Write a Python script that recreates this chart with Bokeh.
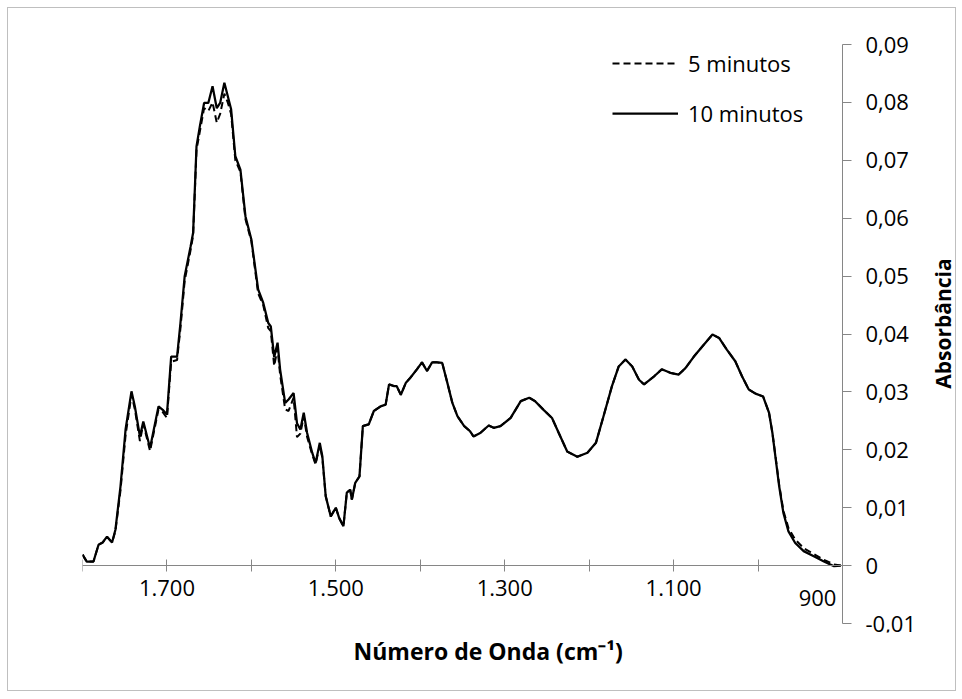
import math

from bokeh.embed import file_html
from bokeh.models import (FixedTicker, InlineStyleSheet, Label, Legend, LegendItem,
                          LinearAxis, Range1d, Title)
from bokeh.plotting import figure
from bokeh.resources import INLINE

# Infrared spectrum: absorbance against wavenumber (cm^-1) for two exposure times
WAVENUMBER = [
    1800, 1795, 1787, 1781, 1776, 1771, 1765, 1761, 1755, 1749,
    1742, 1738, 1732, 1728, 1720, 1710, 1705, 1700, 1695, 1688,
    1684, 1679, 1672, 1669, 1665, 1661, 1656, 1651, 1646, 1641,
    1637, 1632, 1628, 1624, 1619, 1613, 1607, 1600, 1592, 1586,
    1580, 1577, 1573, 1569, 1566, 1560, 1556, 1550, 1546, 1542,
    1538, 1534, 1528, 1524, 1519, 1516, 1512, 1506, 1500, 1496,
    1491, 1487, 1483, 1481, 1477, 1472, 1468, 1461, 1455, 1447,
    1441, 1437, 1431, 1428, 1423, 1417, 1412, 1404, 1398, 1392,
    1386, 1380, 1374, 1368, 1362, 1356, 1348, 1341, 1337, 1329,
    1319, 1313, 1305, 1293, 1281, 1271, 1264, 1254, 1244, 1236,
    1226, 1214, 1202, 1192, 1183, 1173, 1165, 1157, 1149, 1141,
    1135, 1123, 1114, 1104, 1094, 1086, 1076, 1064, 1054, 1046,
    1037, 1027, 1019, 1011, 1003, 994, 987, 983, 979, 975,
    970, 964, 956, 946, 934, 922, 910, 902,
]

ABS_5MIN = [
    0.0019, 0.0007, 0.0007, 0.0036, 0.0040, 0.0050, 0.0040, 0.0060, 0.0130, 0.0225,
    0.0295, 0.0270, 0.0215, 0.0245, 0.0198, 0.0270, 0.0265, 0.0255, 0.0352, 0.0355,
    0.0410, 0.0492, 0.0545, 0.0570, 0.0718, 0.0750, 0.0790, 0.0785, 0.0800, 0.0765,
    0.0780, 0.0815, 0.0800, 0.0780, 0.0700, 0.0680, 0.0598, 0.0560, 0.0470, 0.0450,
    0.0410, 0.0405, 0.0345, 0.0375, 0.0330, 0.0270, 0.0267, 0.0290, 0.0222, 0.0228,
    0.0258, 0.0222, 0.0192, 0.0175, 0.0208, 0.0186, 0.0120, 0.0085, 0.0100, 0.0082,
    0.0068, 0.0126, 0.0131, 0.0114, 0.0143, 0.0154, 0.0241, 0.0244, 0.0267, 0.0275,
    0.0278, 0.0313, 0.0310, 0.0310, 0.0295, 0.0316, 0.0324, 0.0339, 0.0351, 0.0336,
    0.0351, 0.0351, 0.0350, 0.0316, 0.0281, 0.0258, 0.0241, 0.0232, 0.0223, 0.0229,
    0.0242, 0.0238, 0.0241, 0.0255, 0.0284, 0.0290, 0.0284, 0.0269, 0.0255, 0.0229,
    0.0197, 0.0188, 0.0195, 0.0212, 0.0258, 0.0310, 0.0344, 0.0356, 0.0344, 0.0321,
    0.0313, 0.0327, 0.0339, 0.0333, 0.0330, 0.0341, 0.0361, 0.0382, 0.0399, 0.0393,
    0.0373, 0.0353, 0.0327, 0.0304, 0.0297, 0.0292, 0.0264, 0.0229, 0.0185, 0.0140,
    0.0095, 0.0065, 0.0045, 0.0030, 0.0020, 0.0010, 0.0002, 0.0000,
]

ABS_10MIN = [
    0.0019, 0.0007, 0.0007, 0.0036, 0.0040, 0.0050, 0.0040, 0.0062, 0.0137, 0.0235,
    0.0301, 0.0275, 0.0223, 0.0249, 0.0203, 0.0275, 0.0269, 0.0261, 0.0361, 0.0361,
    0.0419, 0.0500, 0.0551, 0.0575, 0.0724, 0.0759, 0.0799, 0.0799, 0.0828, 0.0790,
    0.0799, 0.0834, 0.0811, 0.0788, 0.0707, 0.0684, 0.0603, 0.0563, 0.0477, 0.0454,
    0.0419, 0.0413, 0.0360, 0.0385, 0.0339, 0.0281, 0.0287, 0.0298, 0.0246, 0.0235,
    0.0264, 0.0229, 0.0195, 0.0177, 0.0212, 0.0189, 0.0120, 0.0085, 0.0100, 0.0082,
    0.0068, 0.0126, 0.0131, 0.0114, 0.0143, 0.0154, 0.0241, 0.0244, 0.0267, 0.0275,
    0.0278, 0.0313, 0.0310, 0.0310, 0.0295, 0.0316, 0.0324, 0.0339, 0.0351, 0.0336,
    0.0351, 0.0351, 0.0350, 0.0316, 0.0281, 0.0258, 0.0241, 0.0232, 0.0223, 0.0229,
    0.0242, 0.0238, 0.0241, 0.0255, 0.0284, 0.0290, 0.0284, 0.0269, 0.0255, 0.0229,
    0.0197, 0.0188, 0.0195, 0.0212, 0.0258, 0.0310, 0.0344, 0.0356, 0.0344, 0.0321,
    0.0313, 0.0327, 0.0339, 0.0333, 0.0330, 0.0341, 0.0361, 0.0382, 0.0399, 0.0393,
    0.0373, 0.0353, 0.0327, 0.0304, 0.0297, 0.0292, 0.0264, 0.0229, 0.0183, 0.0137,
    0.0091, 0.0059, 0.0039, 0.0025, 0.0016, 0.0007, -0.0001, 0.0000,
]

SERIES_NAMES = ["5 minutos", "10 minutos"]

X_START, X_END = 1800, 900          # wavenumber span of the axis (reversed)
Y_START, Y_END = -0.01, 0.09

X_TICKS = [1700, 1500, 1300, 1100, 900]
X_TICK_LABELS = ["1.700", "1.500", "1.300", "1.100", "900"]
X_MINOR_TICKS = [1800, 1600, 1400, 1200, 1000]

Y_TICKS = [-0.01, 0.0, 0.01, 0.02, 0.03, 0.04, 0.05, 0.06, 0.07, 0.08, 0.09]
Y_TICK_LABELS = ["-0,01", "0", "0,01", "0,02", "0,03", "0,04", "0,05",
                 "0,06", "0,07", "0,08", "0,09"]

X_TITLE = "Número de Onda (cm⁻¹)"
Y_TITLE = "Absorbância"

FONT = "Open Sans"
TICK_SIZE = "22px"
AXIS_GRAY = "#868686"

# Layout in pixels. The plotted span is 760 x 579 px; the view runs on past
# 900 cm^-1 and a little above/below the absorbance limits, so the right-hand
# axis, its end labels and its title sit inside the drawing area.
SPAN_W_PX, SPAN_H_PX = 760, 579
RIGHT_MARGIN_PX = 113
TOP_PAD_PX, BOTTOM_PAD_PX = 14, 9
x_view_end = X_END - (X_START - X_END) * RIGHT_MARGIN_PX / SPAN_W_PX
y_view_start = Y_START - (Y_END - Y_START) * BOTTOM_PAD_PX / SPAN_H_PX
y_view_end = Y_END + (Y_END - Y_START) * TOP_PAD_PX / SPAN_H_PX

p = figure(
    width=947, height=682,
    output_backend="svg", toolbar_location=None,
    x_range=Range1d(X_START, x_view_end),
    y_range=Range1d(y_view_start, y_view_end),
    x_axis_location=None, y_axis_location=None,
    min_border_left=74, min_border_right=0,
    min_border_top=36 - TOP_PAD_PX, min_border_bottom=67 - BOTTOM_PAD_PX,
)
p.margin = (8, 7, 9, 8)
p.stylesheets = [InlineStyleSheet(css=":host { outline: 1px solid #bfbfbf; }")]
p.outline_line_color = None
p.xgrid.visible = False
p.ygrid.visible = False
p.background_fill_color = "white"
p.border_fill_color = "white"

# Title under the plot area, slightly right of the frame centre
p.add_layout(Title(
    text=X_TITLE, align="left", offset=271, standoff=0,
    text_font=FONT, text_font_style="bold", text_font_size="23px", text_color="black",
), "below")

# Horizontal axis crossing at zero absorbance; last label placed separately
x_overrides = dict(zip(X_TICKS, X_TICK_LABELS))
x_overrides[X_TICKS[-1]] = ""
xaxis = LinearAxis(
    fixed_location=0, bounds=(X_END, X_START),
    ticker=FixedTicker(ticks=X_TICKS, minor_ticks=X_MINOR_TICKS),
    major_label_overrides=x_overrides,
    axis_line_color=AXIS_GRAY,
    major_tick_line_color=AXIS_GRAY, minor_tick_line_color=AXIS_GRAY,
    major_tick_in=6, major_tick_out=6, minor_tick_in=6, minor_tick_out=6,
    major_label_standoff=8,
    major_label_text_font=FONT, major_label_text_font_size=TICK_SIZE,
    major_label_text_color="black",
)
p.add_layout(xaxis, "below")

# Vertical axis standing at the low-wavenumber end of the spectrum
yaxis = LinearAxis(
    fixed_location=X_END, bounds=(Y_START, Y_END),
    ticker=FixedTicker(ticks=Y_TICKS, minor_ticks=[]),
    major_label_overrides=dict(zip(Y_TICKS, Y_TICK_LABELS)),
    axis_line_color=AXIS_GRAY,
    major_tick_line_color=AXIS_GRAY,
    major_tick_in=0, major_tick_out=9, minor_tick_in=0, minor_tick_out=0,
    major_label_standoff=14,
    major_label_text_font=FONT, major_label_text_font_size=TICK_SIZE,
    major_label_text_color="black",
)
p.add_layout(yaxis, "right")

p.add_layout(Label(
    x=X_TICKS[-1], y=0, text=X_TICK_LABELS[-1],
    x_offset=-25, y_offset=-32,
    text_align="center", text_baseline="middle",
    text_font=FONT, text_font_size=TICK_SIZE, text_color="black",
))

# Vertical title, reading upwards, to the right of the tick labels
p.add_layout(Label(
    x=SPAN_W_PX + 100, y=300 + BOTTOM_PAD_PX, x_units="screen", y_units="screen",
    text=Y_TITLE, angle=math.pi / 2,
    text_align="center", text_baseline="middle",
    text_font=FONT, text_font_style="bold", text_font_size="21px", text_color="black",
))

r5 = p.line(WAVENUMBER, ABS_5MIN, line_color="black", line_width=2, line_dash="7 4")
r10 = p.line(WAVENUMBER, ABS_10MIN, line_color="black", line_width=2.25)

legend = Legend(
    items=[LegendItem(label=SERIES_NAMES[0], renderers=[r5]),
           LegendItem(label=SERIES_NAMES[1], renderers=[r10])],
    location=(530, 495 + BOTTOM_PAD_PX), orientation="vertical",
    glyph_width=66, glyph_height=30, spacing=20, label_standoff=10,
    padding=0, margin=0,
    border_line_color=None, background_fill_alpha=0,
    label_text_font=FONT, label_text_font_size=TICK_SIZE, label_text_color="black",
)
p.add_layout(legend)

open("out.html", "w").write(file_html(p, INLINE))
